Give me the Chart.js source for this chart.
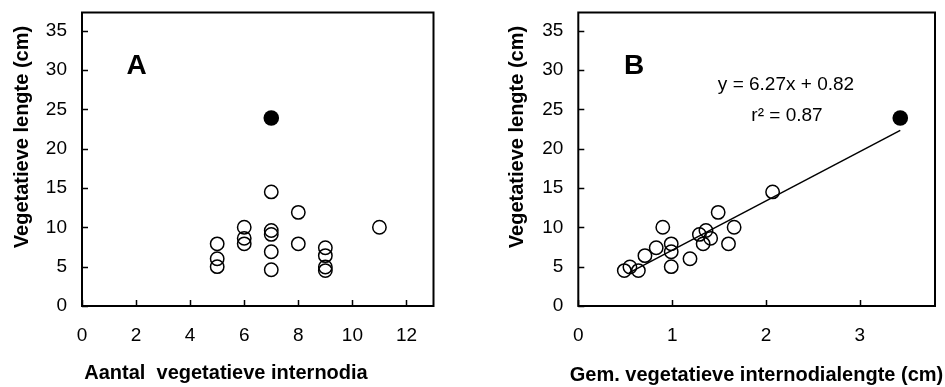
<!DOCTYPE html>
<html>
<head>
<meta charset="utf-8">
<script src="https://cdn.jsdelivr.net/npm/chart.js@4/dist/chart.umd.min.js"></script>
<style>
  html, body { margin: 0; padding: 0; background: #fff; }
  #wrap { position: relative; width: 945px; height: 387px; overflow: hidden; }
  .panel { position: absolute; top: 0; height: 387px; }
</style>
</head>
<body>
<div id="wrap">
  <div class="panel" style="left:0;width:470px"><canvas id="chartA" width="470" height="387"></canvas></div>
  <div class="panel" style="left:470px;width:475px"><canvas id="chartB" width="475" height="387"></canvas></div>
</div>
<script>
// Panel A: number of vegetative internodes vs vegetative length
const internodeCountA = [5, 5, 5, 6, 6, 6, 7, 7, 7, 7, 7, 8, 8, 9, 9, 9, 9, 11];
const vegLengthA      = [5.0, 6.0, 7.9, 7.9, 8.6, 10.0, 4.6, 6.9, 9.1, 9.6, 14.5, 7.9, 11.9, 4.5, 4.95, 6.4, 7.4, 10.0];
const outlierCountA   = [7];
const outlierLengthA  = [23.9];

// Panel B: mean vegetative internode length vs vegetative length
const meanInternodeB  = [0.49, 0.55, 0.64, 0.71, 0.83, 0.90, 0.99, 0.99, 0.99, 1.19, 1.29, 1.36, 1.33, 1.41, 1.49, 1.60, 1.66, 2.07];
const vegLengthB      = [4.5, 4.95, 4.5, 6.4, 7.4, 10.0, 7.9, 6.9, 5.0, 6.0, 9.1, 9.6, 7.9, 8.6, 11.9, 7.9, 10.0, 14.5];
const outlierMeanB    = [3.43];
const outlierLengthB  = [23.9];

// Fitted line y = 6.27x + 0.82, drawn over the range of the data
const fitSlope = 6.27;
const fitIntercept = 0.82;
const fitR2 = 0.87;
const fitRange = [0.54, 3.43];

// Axis ticks
const yTicks  = [0, 5, 10, 15, 20, 25, 30, 35];
const xTicksA = [0, 2, 4, 6, 8, 10, 12];
const xTicksB = [0, 1, 2, 3];

const FONT = 'Arial, "Liberation Sans", Helvetica, sans-serif';

function pairs(xs, ys) { return xs.map((x, i) => ({ x: x, y: ys[i] })); }

const openStyle = {
  pointRadius: 6.7, pointHoverRadius: 6.7, pointBorderWidth: 1.5,
  pointBorderColor: '#000', pointBackgroundColor: 'rgba(0,0,0,0)', showLine: false
};
const filledStyle = {
  pointRadius: 7.8, pointHoverRadius: 7.8, pointBorderWidth: 0,
  pointBorderColor: '#000', pointBackgroundColor: '#000', showLine: false
};

// Frame, inward tick marks, axis titles, panel letter and annotations
const panelDecor = {
  id: 'panelDecor',
  afterDraw(chart, args, o) {
    const ctx = chart.ctx;
    const a = chart.chartArea;
    const xs = chart.scales.x, ys = chart.scales.y;
    ctx.save();
    ctx.strokeStyle = '#000';
    ctx.lineWidth = 2;
    ctx.strokeRect(a.left, a.top, a.right - a.left, a.bottom - a.top);
    ctx.lineWidth = 1.5;
    ctx.beginPath();
    o.xTicks.forEach(v => {
      const px = Math.round(xs.getPixelForValue(v)) + 0.5;
      ctx.moveTo(px, a.bottom); ctx.lineTo(px, a.bottom - 6);
    });
    o.yTicks.forEach(v => {
      const py = Math.round(ys.getPixelForValue(v)) + 0.5;
      ctx.moveTo(a.left, py); ctx.lineTo(a.left + 6, py);
    });
    ctx.stroke();

    ctx.fillStyle = '#000';
    // panel letter
    ctx.font = 'bold 28px ' + FONT;
    ctx.textAlign = 'left';
    ctx.textBaseline = 'alphabetic';
    ctx.fillText(o.letter, o.letterX, 73.5);

    // x title
    ctx.font = 'bold 20px ' + FONT;
    ctx.textAlign = 'center';
    ctx.textBaseline = 'middle';
    ctx.fillText(o.xTitle, o.xTitleX, o.xTitleY);
    // y title
    ctx.save();
    ctx.translate(o.yTitleX, 137);
    ctx.rotate(-Math.PI / 2);
    ctx.fillText(o.yTitle, 0, 0);
    ctx.restore();

    // annotation lines
    if (o.notes) {
      ctx.font = '19px ' + FONT;
      ctx.textAlign = 'center';
      ctx.textBaseline = 'alphabetic';
      o.notes.forEach(n => ctx.fillText(n.text, n.x, n.y));
    }
    ctx.restore();
  }
};

function clearPadding(s) {
  s.paddingTop = 0; s.paddingBottom = 0; s.paddingLeft = 0; s.paddingRight = 0;
}

function makeScales(xMax, xTicks, yAxisWidth) {
  return {
    x: {
      type: 'linear', min: 0, max: xMax,
      grid: { display: false, drawTicks: false }, border: { display: false },
      ticks: { color: '#000', font: { family: FONT, size: 19 }, padding: 18, maxRotation: 0, autoSkip: false },
      afterBuildTicks: s => { s.ticks = xTicks.map(v => ({ value: v })); },
      afterFit: s => { s.height = 81; clearPadding(s); }
    },
    y: {
      type: 'linear', min: 0, max: 37.3,
      grid: { display: false, drawTicks: false }, border: { display: false },
      ticks: { color: '#000', font: { family: FONT, size: 19 }, padding: 15, autoSkip: false },
      afterBuildTicks: s => { s.ticks = yTicks.map(v => ({ value: v })); },
      afterFit: s => { s.width = yAxisWidth; clearPadding(s); }
    }
  };
}

const common = {
  responsive: false,
  animation: false,
  devicePixelRatio: 1,
  plugins: { legend: { display: false }, tooltip: { enabled: false } },
  events: []
};

new Chart(document.getElementById('chartA'), {
  type: 'scatter',
  data: {
    datasets: [
      Object.assign({ label: 'Aantal', data: pairs(internodeCountA, vegLengthA) }, openStyle),
      Object.assign({ label: 'Uitschieter', data: pairs(outlierCountA, outlierLengthA) }, filledStyle)
    ]
  },
  options: Object.assign({}, common, {
    layout: { padding: { top: 12.5, right: 36.5, left: 0, bottom: 0 } },
    scales: makeScales(13, xTicksA, 82),
    plugins: Object.assign({}, common.plugins, {
      panelDecor: {
        letter: 'A', letterX: 126.5,
        xTitle: 'Aantal  vegetatieve internodia', xTitleX: 226, xTitleY: 373,
        yTitle: 'Vegetatieve lengte (cm)', yTitleX: 22,
        xTicks: xTicksA, yTicks: yTicks
      }
    })
  }),
  plugins: [panelDecor]
});

new Chart(document.getElementById('chartB'), {
  type: 'scatter',
  data: {
    datasets: [
      {
        type: 'line', label: 'Regressie',
        data: fitRange.map(x => ({ x: x, y: fitSlope * x + fitIntercept })),
        borderColor: '#000', borderWidth: 1.5, pointRadius: 0, fill: false, tension: 0
      },
      Object.assign({ label: 'Gem. lengte', data: pairs(meanInternodeB, vegLengthB) }, openStyle),
      Object.assign({ label: 'Uitschieter', data: pairs(outlierMeanB, outlierLengthB) }, filledStyle)
    ]
  },
  options: Object.assign({}, common, {
    layout: { padding: { top: 12.5, right: 10, left: 0, bottom: 0 } },
    scales: makeScales(3.8, xTicksB, 108.3),
    plugins: Object.assign({}, common.plugins, {
      panelDecor: {
        letter: 'B', letterX: 154,
        xTitle: 'Gem. vegetatieve internodialengte (cm)', xTitleX: 286.5, xTitleY: 375,
        yTitle: 'Vegetatieve lengte (cm)', yTitleX: 47,
        xTicks: xTicksB, yTicks: yTicks,
        notes: [
          { text: 'y = ' + fitSlope.toFixed(2) + 'x + ' + fitIntercept.toFixed(2), x: 316, y: 90 },
          { text: 'r\u00B2 = ' + fitR2.toFixed(2), x: 317, y: 120.5 }
        ]
      }
    })
  }),
  plugins: [panelDecor]
});
</script>
</body>
</html>
